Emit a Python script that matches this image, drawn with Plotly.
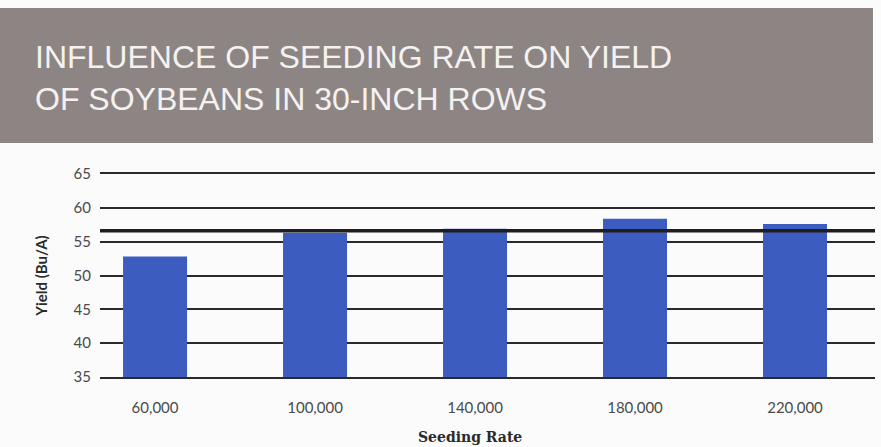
import plotly.graph_objects as go

# Data
seeding_rates = ["60,000", "100,000", "140,000", "180,000", "220,000"]
yields = [52.8, 56.3, 56.9, 58.4, 57.6]
reference_line = 56.6
y_ticks = [35, 40, 45, 50, 55, 60, 65]

title_lines = ["INFLUENCE OF SEEDING RATE ON YIELD", "OF SOYBEANS IN 30-INCH ROWS"]
x_title = "Seeding Rate"
y_title = "Yield (Bu/A)"

fig = go.Figure()

fig.add_trace(go.Bar(
    x=seeding_rates,
    y=yields,
    base=0,
    marker=dict(color="#3d5cc0", line=dict(width=0)),
    width=0.4,
    hoverinfo="x+y",
))

# reference line drawn over the bars
fig.add_shape(type="line", xref="paper", yref="y", x0=0, x1=1,
              y0=reference_line, y1=reference_line,
              line=dict(color="#1e1e1e", width=3.5), layer="above")

# title banner
fig.add_shape(type="rect", xref="paper", yref="paper",
              x0=-100/775, x1=(873-100)/775, y0=(377-143)/203, y1=(377-8)/203,
              fillcolor="#8d8583", line=dict(width=0), layer="below")

fig.add_annotation(
    text="<br>".join(title_lines),
    xref="paper", yref="paper", x=(33-100)/775, y=(377-37)/203,
    xanchor="left", yanchor="top", align="left", showarrow=False,
    font=dict(family="Liberation Sans, Arial, sans-serif",
              size=32, color="#f4f2f0"),
)

# x-axis title
fig.add_annotation(
    text="<b>" + x_title + "</b>",
    xref="paper", yref="paper", x=(470-100)/775, y=(377-437)/203,
    xanchor="center", yanchor="middle", showarrow=False,
    font=dict(size=14, color="#2a2a2a", family="DejaVu Serif, serif"),
)

fig.update_layout(
    width=881, height=447,
    margin=dict(l=100, r=6, t=174, b=70),
    paper_bgcolor="#fbfbfb",
    plot_bgcolor="#fbfbfb",
    showlegend=False,
    font=dict(family="Lato, Open Sans, sans-serif", color="#3a3a3a"),
    xaxis=dict(
        range=[-0.344, 4.5],
        showgrid=False, zeroline=False,
        showline=True, mirror=True, linecolor="#2a2a2a", linewidth=2,
        ticks="", tickfont=dict(size=15, color="#4a4a4a"),
        ticklabelstandoff=16,
    ),
    yaxis=dict(
        range=[35, 65],
        tickvals=y_ticks,
        showgrid=True, gridcolor="#2a2a2a", gridwidth=2,
        zeroline=False, showline=False,
        ticks="", tickfont=dict(size=15, color="#4a4a4a"),
        ticklabelstandoff=8,
        title=dict(text="<b>" + y_title + "</b>", standoff=22,
                   font=dict(size=15, color="#2a2a2a")),
    ),
)

fig.write_html("out.html")
